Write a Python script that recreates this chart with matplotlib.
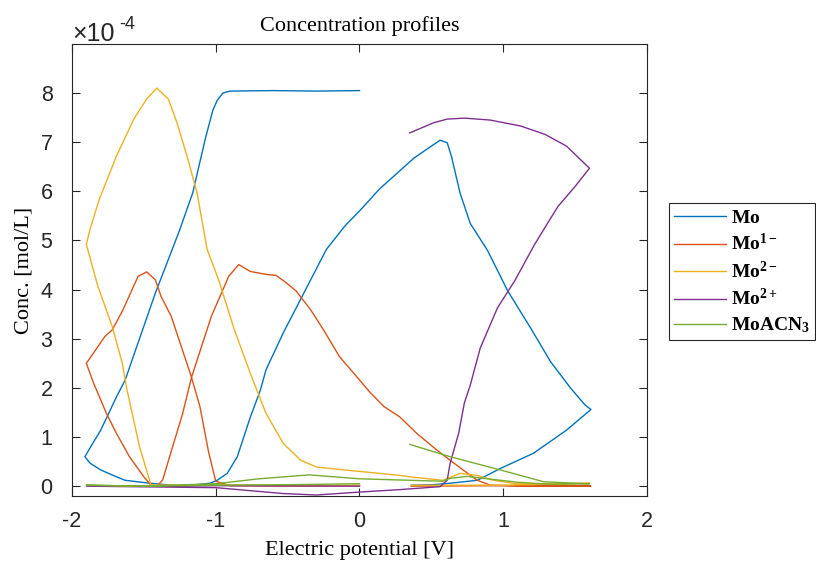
import matplotlib
matplotlib.use("Agg")
import matplotlib.pyplot as plt

plt.rcParams["axes.unicode_minus"] = False
plt.rcParams["mathtext.fontset"] = "custom"
plt.rcParams["mathtext.rm"] = "Liberation Serif"
plt.rcParams["mathtext.bf"] = "Liberation Serif:bold"

# values, concentration in units of 1e-4 mol/L
# each series follows the sweep 0 -> -1.9 -> 1.62 -> 0.37 V
mo_x = [0.00, -0.30, -0.60, -0.90, -0.95, -0.99, -1.02, -1.07, -1.16, -1.25, -1.33, -1.42,
        -1.63, -1.69, -1.80, -1.87, -1.91,
        -1.875, -1.80, -1.69, -1.63, -1.46, -1.23, -1.04, -0.99, -0.92, -0.85, -0.76, -0.69,
        -0.65, -0.53, -0.41, -0.23, -0.10, 0.00, 0.14, 0.38, 0.56, 0.61, 0.64, 0.70, 0.77, 0.89,
        1.03, 1.19, 1.33, 1.47, 1.57, 1.61,
        1.44, 1.21, 0.98, 0.82, 0.63, 0.51, 0.36]
mo_y = [8.05, 8.04, 8.05, 8.04, 8.00, 7.85, 7.65, 7.10, 5.97, 5.22, 4.61, 3.93,
        2.16, 1.82, 1.14, 0.80, 0.60,
        0.47, 0.33, 0.19, 0.12, 0.06, 0.00, 0.06, 0.12, 0.26, 0.60, 1.40, 1.95,
        2.37, 3.12, 3.80, 4.82, 5.30, 5.60, 6.05, 6.68, 7.04, 6.99, 6.71, 5.96, 5.35, 4.80,
        3.98, 3.22, 2.53, 1.99, 1.65, 1.56,
        1.14, 0.67, 0.36, 0.12, 0.06, 0.03, 0.02]

mo1_x = [0.00, -0.50, -0.90, -1.00, -1.05, -1.11, -1.17, -1.31, -1.38, -1.42, -1.48, -1.54,
         -1.65, -1.72, -1.77, -1.90,
         -1.85, -1.76, -1.69, -1.60, -1.50, -1.45, -1.41, -1.37, -1.30, -1.23, -1.17, -1.03,
         -0.96, -0.91, -0.84, -0.76, -0.65, -0.58, -0.51, -0.44, -0.34, -0.25, -0.14, -0.02,
         0.07, 0.17, 0.28, 0.40, 0.54, 0.63, 0.72, 0.82, 0.91, 1.20, 1.61,
         1.00, 0.36]
mo1_y = [0.01, 0.00, 0.01, 0.10, 0.70, 1.62, 2.23, 3.46, 3.86, 4.20, 4.36, 4.27,
         3.56, 3.18, 3.05, 2.50,
         2.10, 1.48, 1.07, 0.60, 0.19, 0.02, 0.00, 0.12, 0.80, 1.48, 2.20, 3.46,
         3.93, 4.27, 4.51, 4.37, 4.31, 4.29, 4.14, 3.97, 3.59, 3.18, 2.64, 2.23,
         1.92, 1.62, 1.41, 1.07, 0.73, 0.53, 0.33, 0.12, 0.02, 0.00, 0.00,
         0.01, 0.00]

mo2_x = [0.00, -0.50, -1.00, -1.45, -1.53, -1.62, -1.65, -1.72, -1.82, -1.90,
         -1.875, -1.81, -1.69, -1.57, -1.48, -1.41, -1.33, -1.27, -1.20, -1.13, -1.06,
         -0.98, -0.87, -0.76, -0.65, -0.53, -0.41, -0.30, -0.07, 0.28, 0.35, 0.58, 0.70,
         0.82, 0.93, 1.09, 1.32, 1.60,
         1.00, 0.36]
mo2_y = [0.02, 0.01, 0.03, 0.02, 0.80, 2.00, 2.50, 3.25, 4.07, 4.92,
         5.22, 5.84, 6.72, 7.47, 7.88, 8.10, 7.88, 7.40, 6.72, 5.97, 4.82,
         4.20, 3.18, 2.30, 1.48, 0.87, 0.53, 0.39, 0.32, 0.22, 0.19, 0.12, 0.26,
         0.22, 0.12, 0.05, 0.04, 0.06,
         0.02, 0.02]

mo2p_x = [0.00, -1.00, -1.90,
          -1.00, -0.53, -0.30, 0.00, 0.28, 0.56, 0.61, 0.63, 0.69, 0.73, 0.77, 0.84, 0.96,
          1.08, 1.22, 1.38, 1.50, 1.60,
          1.44, 1.29, 1.12, 0.91, 0.73, 0.61, 0.52, 0.35]
mo2p_y = [0.00, 0.01, 0.00,
          -0.03, -0.15, -0.18, -0.12, -0.07, -0.01, 0.12, 0.46, 1.08, 1.70, 2.05, 2.81, 3.63,
          4.18, 4.93, 5.69, 6.10, 6.47,
          6.92, 7.16, 7.33, 7.45, 7.49, 7.47, 7.40, 7.19]

moacn_x = [0.00, -0.50, -1.00, -1.50, -1.90,
           -1.50, -1.00, -0.70, -0.35, 0.00, 0.35, 0.58, 0.63, 0.75, 0.86, 1.10, 1.32, 1.60,
           1.58, 1.28, 0.98, 0.63, 0.35]
moacn_y = [0.05, 0.03, 0.02, 0.00, 0.02,
           0.00, 0.05, 0.15, 0.23, 0.15, 0.12, 0.10, 0.16, 0.20, 0.16, 0.08, 0.04, 0.05,
           0.05, 0.09, 0.33, 0.60, 0.85]

labels = [r"$\mathbf{Mo}$", r"$\mathbf{Mo^{1-}}$", r"$\mathbf{Mo^{2-}}$",
          r"$\mathbf{Mo^{2+}}$", r"$\mathbf{MoACN_3}$"]
colors = ["#0072BD", "#D95319", "#EDB120", "#7E2F8E", "#77AC30"]

fig = plt.figure(figsize=(8.16, 5.63), dpi=100)
ax = fig.add_axes([0.0882, 0.119, 0.7047, 0.803])

series = [(mo_x, mo_y), (mo1_x, mo1_y), (mo2_x, mo2_y), (mo2p_x, mo2p_y), (moacn_x, moacn_y)]
for (xs, ys), lab, col in zip(series, labels, colors):
    ax.plot(xs, ys, color=col, lw=1.0, label=lab)

ax.set_xlim(-2, 2)
ax.set_ylim(-0.2, 9.0)
ax.set_xticks([-2, -1, 0, 1, 2])
ax.set_yticks(range(0, 9))
ax.tick_params(direction="in", length=6, width=0.8, top=True, right=True,
               labelsize=15.5, colors="#262626")
ax.tick_params(axis="x", pad=11)
ax.tick_params(axis="y", pad=14)
for lab in ax.get_xticklabels() + ax.get_yticklabels():
    lab.set_fontfamily("Liberation Sans")
for sp in ax.spines.values():
    sp.set_color("#262626")
    sp.set_linewidth(0.8)

# MATLAB style exponent above the y axis
ax.text(0.0, 0.995, "\u00d710", transform=ax.transAxes, fontsize=18,
        family="Liberation Sans", color="#262626", ha="left", va="bottom")
ax.text(0.083, 1.024, "-4", transform=ax.transAxes, fontsize=13,
        family="Liberation Sans", color="#262626", ha="left", va="bottom")

ax.set_title("Concentration profiles", family="Liberation Serif", fontsize=16, pad=9)
ax.set_xlabel("Electric potential [V]", family="Liberation Serif", fontsize=16, labelpad=6)
ax.set_ylabel("Conc. [mol/L]", family="Liberation Serif", fontsize=16, labelpad=5)

leg = fig.legend(loc="upper left", bbox_to_anchor=(0.820, 0.639), borderaxespad=0,
                 fontsize=14, handlelength=2.7, handletextpad=0.25, labelspacing=0.32,
                 borderpad=0.25, fancybox=False, framealpha=1)
leg.get_frame().set_edgecolor("#262626")
leg.get_frame().set_linewidth(0.8)

fig.savefig("out.png", dpi=100)
